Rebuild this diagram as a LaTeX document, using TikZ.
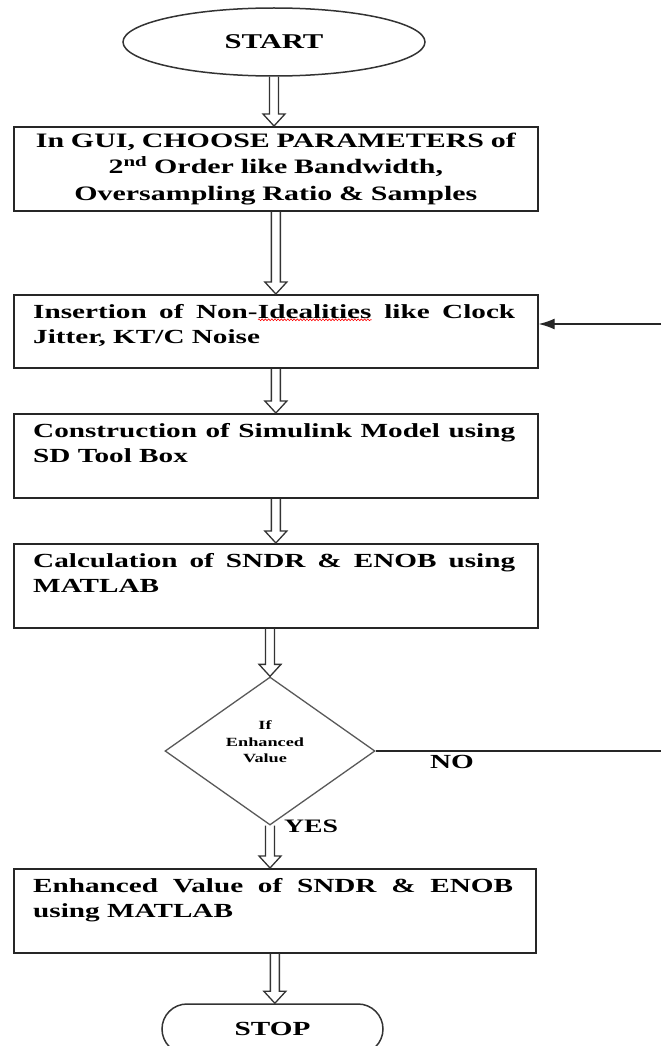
\documentclass[tikz,border=0pt]{standalone}
\usepackage{fontspec}
\setmainfont{Liberation Serif}[FakeStretch=1.46]
\usetikzlibrary{shapes.geometric,arrows.meta,calc,decorations.pathmorphing}
\newcommand\redwave[1]{\tikz[baseline=(w.base)]{\node[inner sep=0pt, outer sep=0pt] (w) {#1};
  \draw[red, line width=0.6pt, decorate, decoration={snake, amplitude=0.9pt, segment length=3.2pt}]
    ([yshift=-1.5pt]w.base west) -- ([yshift=-1.5pt]w.base east);}}
\begin{document}
\begin{tikzpicture}[x=1pt,y=-1pt,
  box/.style={draw=black!85, line width=1.7pt, rectangle, inner sep=0pt, anchor=north west},
  txt/.style={inner sep=0pt, anchor=north west, align=justify, font=\bfseries\fontsize{20}{25.5}\selectfont},
  term/.style={draw=black!80, line width=1.5pt, inner sep=0pt},
  lbl/.style={inner sep=0pt, font=\bfseries\fontsize{20}{24}\selectfont},
  hollow/.style={line width=1.3pt, draw=black!80, to path={let \p1=(\tikztostart), \p2=(\tikztotarget) in
     (\x1-4.5pt,\y1) -- (\x1-4.5pt,\y2+12pt) -- (\x1-11pt,\y2+12pt) -- (\x1,\y2)
     -- (\x1+11pt,\y2+12pt) -- (\x1+4.5pt,\y2+12pt) -- (\x1+4.5pt,\y1)}},
  thinarrow/.style={draw=black!85, line width=1.3pt}
]
\useasboundingbox (0,0) rectangle (661,1046);

\node[term, ellipse, minimum width=302pt, minimum height=68pt, font=\bfseries\fontsize{21}{24}\selectfont] (start) at (274,42) {START};

\node[box, minimum width=524pt, minimum height=84pt, align=center, text width=500pt,
      font=\bfseries\fontsize{20.5}{26.5}\selectfont] (b1) at (13,126)
  {In GUI, CHOOSE PARAMETERS of\\2\textsuperscript{nd} Order like Bandwidth,\\Oversampling Ratio \& Samples};

\node[box, minimum width=524pt, minimum height=73pt] (b2) at (13,294) {};
\node[txt, text width=482pt] (t2) at (33,304) {Insertion of Non-\redwave{Idealities} like Clock\linebreak Jitter, KT/C Noise};

\node[box, minimum width=524pt, minimum height=84pt] (b3) at (13,413) {};
\node[txt, text width=482pt] (t3) at (33,423) {Construction of Simulink Model using\linebreak SD Tool Box};

\node[box, minimum width=524pt, minimum height=84pt] (b4) at (13,543) {};
\node[txt, text width=482pt] (t4) at (33,553) {Calculation of SNDR \& ENOB using\linebreak MATLAB};

\node[diamond, draw=black!65, line width=1.3pt, minimum width=210pt, minimum height=148pt, inner sep=0pt] (d) at (270,751) {};
\node[inner sep=0pt, align=center, font=\bfseries\fontsize{12.5}{16.5}\selectfont] (dt) at (265,742) {If\\Enhanced\\Value};

\node[box, minimum width=522pt, minimum height=84pt] (b5) at (13,868) {};
\node[txt, text width=480pt] (t5) at (33,878) {Enhanced Value of SNDR \& ENOB\linebreak using MATLAB};

\node[term, rectangle, rounded corners=25pt, minimum width=221pt, minimum height=50pt,
      font=\bfseries\fontsize{20}{24}\selectfont] (stop) at (272.5,1029) {STOP};

\node[lbl] (no) at (452,762) {NO};
\node[lbl, font=\bfseries\fontsize{19}{24}\selectfont] (yes) at (311,826) {YES};

\draw[hollow] (start.south) to (b1.north);
\draw[hollow] (b1.south) to (b2.north);
\draw[hollow] (b2.south) to (b3.north);
\draw[hollow] (b3.south) to (b4.north);
\draw[hollow] (b4.south -| d.north) to (d.north);
\draw[hollow] (d.south) to (d.south |- b5.north);
\draw[hollow] (b5.south) to (stop.north);

\coordinate (inR) at (661,324);
\coordinate (noR) at (661,754);
\draw[thinarrow, -{Latex[length=16pt,width=11pt]}] (inR) -- (inR -| b2.east);
\draw[thinarrow] (d.east) -- (d.east -| noR);
\end{tikzpicture}
\end{document}
